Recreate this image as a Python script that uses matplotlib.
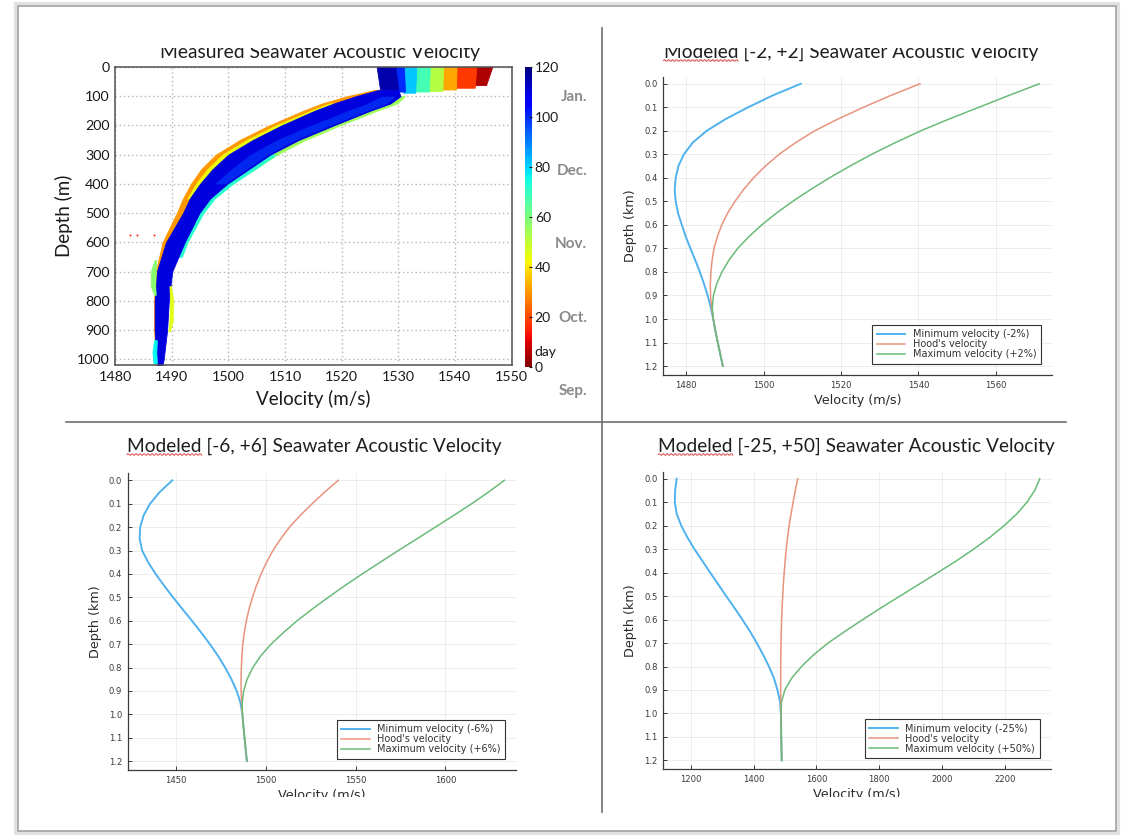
import numpy as np
import matplotlib
matplotlib.use("Agg")
import matplotlib.pyplot as plt
from matplotlib.cm import ScalarMappable
from matplotlib.colors import Normalize
from matplotlib.lines import Line2D
from matplotlib.patches import Rectangle
from matplotlib.ticker import FormatStrFormatter
from matplotlib.transforms import Bbox, TransformedBbox, blended_transform_factory

plt.rcParams['font.family'] = ['Lato', 'DejaVu Sans']

# ---------------- measured profile (top left), colour = day ----------------
# surface mixed-layer columns, one per group of days
ml_day = [5, 18, 32, 52, 68, 82, 100, 115]
ml_base_m = [62, 71, 77, 82, 84, 88, 84, 78]
ml_lo_top = [1543.8, 1540.3, 1537.9, 1535.6, 1533.2, 1531.0, 1529.5, 1526.2]
ml_hi_top = [1546.6, 1543.8, 1540.3, 1537.9, 1535.6, 1533.2, 1531.0, 1529.5]
ml_lo_base = [1543.0, 1540.0, 1537.5, 1535.3, 1533.0, 1530.8, 1529.6, 1526.8]
ml_hi_base = [1545.5, 1543.5, 1540.2, 1537.8, 1535.4, 1533.0, 1531.2, 1530.0]

# thermocline band below the mixed layer
tc_depth_m = [78, 100, 125, 150, 200, 250, 300, 350, 400, 450, 500, 600, 700, 800, 900, 1000, 1020]
orange_lo = [1526.0, 1521.0, 1516.5, 1513.2, 1507.2, 1502.0, 1497.8, 1495.2, 1493.4, 1492.0, 1490.9, 1488.4, 1487.2, 1486.9, 1486.9, 1487.2, 1487.3]
orange_hi = [1527.2, 1524.0, 1519.5, 1516.0, 1510.0, 1504.6, 1500.2, 1497.2, 1495.2, 1493.5, 1492.2, 1489.3, 1487.8, 1487.4, 1487.4, 1487.6, 1487.7]
core_lo = [1526.6, 1522.5, 1518.6, 1515.2, 1509.4, 1504.3, 1500.0, 1497.2, 1495.0, 1493.2, 1492.0, 1489.0, 1487.4, 1487.0, 1487.0, 1487.3, 1487.4]
core_hi = [1530.0, 1530.4, 1528.6, 1525.0, 1518.6, 1512.4, 1507.4, 1503.6, 1499.8, 1496.8, 1494.9, 1492.3, 1490.1, 1489.5, 1489.2, 1488.6, 1488.4]

yellow_depth_m = [125, 150, 200, 250, 300, 350, 400, 450]
yellow_lo = [1517.8, 1514.5, 1508.4, 1503.2, 1499.0, 1496.3, 1494.3, 1492.8]
yellow_hi = [1519.6, 1516.2, 1510.2, 1505.0, 1500.8, 1497.9, 1495.8, 1494.0]

green_depth_m = [100, 125, 150, 200, 250, 300, 350]
green_lo = [1529.5, 1527.8, 1524.2, 1517.7, 1511.6, 1506.6, 1502.7]
green_hi = [1531.2, 1529.8, 1526.2, 1519.7, 1513.6, 1508.6, 1504.7]

cyan_depth_m = [300, 350, 400, 450, 500, 600, 650]
cyan_lo = [1506.2, 1502.6, 1498.9, 1495.9, 1494.1, 1491.6, 1490.9]
cyan_hi = [1508.4, 1504.7, 1500.8, 1497.6, 1495.6, 1492.8, 1491.8]

mid_depth_m = [100, 125, 150, 200, 250, 300, 350, 400]
mid_lo = [1527.0, 1524.5, 1521.0, 1514.5, 1508.5, 1503.8, 1500.5, 1497.5]
mid_hi = [1529.5, 1528.0, 1524.5, 1518.0, 1511.8, 1507.0, 1503.2, 1499.5]

# small patches at the deep edges of the band
deep_green_m = [660, 700, 750, 780]
deep_green_lo = [1487.0, 1486.3, 1486.3, 1486.9]
deep_green_hi = [1487.3, 1487.2, 1487.1, 1487.2]
deep_cyan_m = [935, 975, 1015]
deep_cyan_lo = [1486.9, 1486.6, 1486.8]
deep_cyan_hi = [1487.4, 1487.3, 1487.4]
deep_yellow_m = [750, 800, 870, 905]
deep_yellow_lo = [1489.6, 1489.7, 1489.6, 1489.4]
deep_yellow_hi = [1489.9, 1490.3, 1490.2, 1489.7]

outlier_v = [1482.6, 1483.9, 1486.8]
outlier_d = [576, 576, 576]

month_names = ['Jan.', 'Dec.', 'Nov.', 'Oct.', 'Sep.']
month_day = [108, 78.5, 49, 19.5, -9.5]

# ---------------- modelled profiles ----------------
depth_km = [0.00, 0.05, 0.10, 0.15, 0.20, 0.25, 0.30, 0.35, 0.40, 0.45, 0.50, 0.55, 0.60,
            0.65, 0.70, 0.75, 0.80, 0.85, 0.90, 0.95, 1.00, 1.05, 1.10, 1.15, 1.20]
hood_v = [1540.4, 1532.8, 1525.8, 1519.2, 1513.2, 1508.3, 1504.0, 1500.45, 1497.4, 1494.8, 1492.6, 1490.7, 1489.2,
          1488.05, 1487.2, 1486.7, 1486.4, 1486.25, 1486.3, 1486.55, 1487.0, 1487.55, 1488.17, 1488.82, 1489.47]
min2_v = [1509.6, 1502.3, 1496.0, 1490.2, 1485.3, 1481.7, 1479.4, 1478.0, 1477.3, 1477.05, 1477.3, 1477.9, 1478.9,
          1479.9, 1481.1, 1482.35, 1483.55, 1484.6, 1485.55, 1486.35, 1487.0, 1487.55, 1488.17, 1488.82, 1489.47]
max2_v = [1571.2, 1563.3, 1555.6, 1547.9, 1540.6, 1534.05, 1527.9, 1522.3, 1517.0, 1512.1, 1507.5, 1503.3, 1499.5,
          1496.2, 1493.3, 1491.05, 1489.25, 1487.9, 1487.05, 1486.75, 1487.0, 1487.55, 1488.17, 1488.82, 1489.47]
min6_v = [1448.0, 1441.0, 1435.6, 1432.0, 1430.1, 1429.8, 1431.2, 1434.5, 1438.7, 1443.4, 1448.4, 1453.6, 1458.9,
          1464.0, 1468.9, 1473.4, 1477.4, 1480.9, 1483.8, 1485.9, 1487.0, 1487.55, 1488.17, 1488.82, 1489.47]
max6_v = [1632.8, 1624.0, 1614.6, 1604.6, 1594.4, 1584.1, 1573.8, 1563.7, 1553.7, 1544.0, 1534.8, 1525.9, 1517.5,
          1509.9, 1503.0, 1497.2, 1492.8, 1489.6, 1487.7, 1486.9, 1487.0, 1487.55, 1488.17, 1488.82, 1489.47]
min25_v = [1155.3, 1150.5, 1149.5, 1155.5, 1170.0, 1189.5, 1212.0, 1237.0, 1262.0, 1287.5, 1313.0, 1339.0, 1364.3,
           1388.5, 1410.3, 1430.5, 1449.0, 1465.0, 1476.0, 1484.3, 1487.0, 1487.55, 1488.17, 1488.82, 1489.47]
max50_v = [2310.6, 2294.5, 2270.0, 2237.4, 2197.0, 2151.5, 2100.0, 2045.0, 1986.0, 1926.0, 1865.7, 1805.5, 1747.5,
           1691.0, 1637.0, 1591.0, 1552.5, 1521.0, 1499.5, 1489.0, 1487.0, 1487.55, 1488.17, 1488.82, 1489.47]

W, H = 1127, 836
fig = plt.figure(figsize=(W / 100, H / 100), dpi=100, facecolor='white')


def px_box(x0, y0, x1, y1):
    # pixel box measured from the top-left corner -> figure fractions
    return [x0 / W, 1 - y1 / H, (x1 - x0) / W, (y1 - y0) / H]


cmap = plt.get_cmap('jet_r')
norm = Normalize(0, 120)

# ---------------- top left: measured ----------------
ax = fig.add_axes(px_box(115, 67, 511.5, 365))
for i in range(len(ml_day)):
    ax.fill_betweenx([0, ml_base_m[i]], [ml_lo_top[i], ml_lo_base[i]], [ml_hi_top[i], ml_hi_base[i]],
                     color=cmap(norm(ml_day[i])), lw=0.6)
ax.fill_betweenx(tc_depth_m, orange_lo, orange_hi, color=cmap(norm(30)), lw=0.6)
ax.fill_betweenx(yellow_depth_m, yellow_lo, yellow_hi, color=cmap(norm(44)), lw=0.6)
ax.fill_betweenx(green_depth_m, green_lo, green_hi, color=cmap(norm(55)), lw=0.6)
ax.fill_betweenx(cyan_depth_m, cyan_lo, cyan_hi, color=cmap(norm(72)), lw=0.6)
ax.fill_betweenx(tc_depth_m, core_lo, core_hi, color=cmap(norm(110)), lw=0.6)
ax.fill_betweenx(mid_depth_m, mid_lo, mid_hi, color=cmap(norm(96)), lw=0, alpha=0.5)
ax.fill_betweenx(deep_green_m, deep_green_lo, deep_green_hi, color=cmap(norm(58)), lw=0.5)
ax.fill_betweenx(deep_cyan_m, deep_cyan_lo, deep_cyan_hi, color=cmap(norm(76)), lw=0.5)
ax.fill_betweenx(deep_yellow_m, deep_yellow_lo, deep_yellow_hi, color=cmap(norm(45)), lw=0.5)
ax.scatter(outlier_v, outlier_d, s=2, color=cmap(norm(15)), lw=0)

ax.set_xlim(1480, 1550)
ax.set_ylim(1020, 0)
ax.set_xticks(range(1480, 1551, 10))
ax.set_yticks(range(0, 1001, 100))
ax.set_axisbelow(True)
ax.grid(True, color='#b5b5b5', linestyle=(0, (1, 2)), lw=1.0)
ax.tick_params(length=0, labelsize=10.3, pad=4, colors='#1a1a1a')
for s in ax.spines.values():
    s.set_color('#505050')
    s.set_linewidth(1.1)
ax.set_xlabel('Velocity (m/s)', fontsize=13.5, labelpad=5, color='#1a1a1a')
ax.set_ylabel('Depth (m)', fontsize=13.5, labelpad=3, color='#1a1a1a')

cax = fig.add_axes(px_box(525, 67, 532, 367))
cb = fig.colorbar(ScalarMappable(norm=norm, cmap=cmap), cax=cax, ticks=range(0, 121, 20))
cb.outline.set_visible(False)
cax.tick_params(direction='in', length=2.5, width=0.8, labelsize=10, pad=2, colors='#1a1a1a')
tr = blended_transform_factory(cax.transAxes, cax.transData)
cax.text(1.3, 6, 'day', transform=tr, fontsize=10, va='center', ha='left', color='#1a1a1a')
for name, d in zip(month_names, month_day):
    cax.text(8.9, d, name, transform=tr, fontsize=11, fontweight='bold', color='#8a8a8a',
             ha='right', va='center')

# ---------------- modelled panels ----------------
c_blue, c_red, c_green = '#4fb2ee', '#e8937e', '#6abb77'


def model_panel(box, vmin, vmax, lo_lbl, hi_lbl, xticks, xlim):
    a = fig.add_axes(px_box(*box))
    a.plot(vmin, depth_km, color=c_blue, lw=1.4, label='Minimum velocity (%s%%)' % lo_lbl)
    a.plot(hood_v, depth_km, color=c_red, lw=1.1, label="Hood's velocity")
    a.plot(vmax, depth_km, color=c_green, lw=1.1, label='Maximum velocity (%s%%)' % hi_lbl)
    a.set_xlim(*xlim)
    a.set_ylim(1.238, -0.03)
    a.set_xticks(xticks)
    a.set_yticks(depth_km[::2])
    a.yaxis.set_major_formatter(FormatStrFormatter('%.1f'))
    a.grid(True, color='black', alpha=0.08, lw=0.6)
    for side in ('top', 'right'):
        a.spines[side].set_visible(False)
    for side in ('left', 'bottom'):
        a.spines[side].set_color('#3a3a3a')
        a.spines[side].set_linewidth(0.9)
    a.tick_params(direction='in', length=3, width=0.7, labelsize=6.1, pad=4,
                  colors='#3a3a3a', labelfontfamily='DejaVu Sans')
    a.set_xlabel('Velocity (m/s)', fontsize=9.2, family='DejaVu Sans', labelpad=3, color='#2a2a2a')
    a.set_ylabel('Depth (km)', fontsize=9.2, family='DejaVu Sans', labelpad=5, color='#2a2a2a')
    leg = a.legend(loc='lower right', prop={'family': 'DejaVu Sans', 'size': 7.0}, fancybox=False,
                   framealpha=1, edgecolor='#333333', handlelength=2.9, handletextpad=0.8,
                   labelspacing=0.0, borderpad=0.45, borderaxespad=1.15)
    leg.get_frame().set_linewidth(0.8)
    for t in leg.get_texts():
        t.set_color('#333333')
    return a


ax2 = model_panel((663.3, 76.7, 1051.7, 375), min2_v, max2_v, '-2', '+2',
                  range(1480, 1561, 20), (1474.1, 1574.4))
ax6 = model_panel((127.6, 473.3, 516.4, 770), min6_v, max6_v, '-6', '+6',
                  range(1450, 1601, 50), (1423.1, 1639.5))
ax25 = model_panel((663.3, 471.7, 1050.7, 769.3), min25_v, max50_v, '-25', '+50',
                   range(1200, 2201, 200), (1112.8, 2345.4))

# bottom axis labels are cut by the page edge
bottom_clip = TransformedBbox(Bbox([[0, 1 - 797 / H], [1, 1]]), fig.transFigure)
for a in (ax6, ax25):
    a.xaxis.label.set_clip_box(bottom_clip)
    a.xaxis.label.set_clip_on(True)

# ---------------- titles ----------------
top_clip = TransformedBbox(Bbox([[0, 0], [1, 1 - 48 / H]]), fig.transFigure)
titles = [('Measured Seawater Acoustic Velocity', 319.5, 58, 320, True),
          ('Modeled [-2, +2] Seawater Acoustic Velocity', 850.8, 58, 375, True),
          ('Modeled [-6, +6] Seawater Acoustic Velocity', 314.4, 452, 374, False),
          ('Modeled [-25, +50] Seawater Acoustic Velocity', 856.7, 452, 397, False)]
renderer = fig.canvas.get_renderer()
for text, xc, yb, width, clipped in titles:
    t = fig.text(xc / W, 1 - yb / H, text, ha='center', va='baseline', fontsize=13, color='#1e1e1e')
    t.set_fontsize(13 * width / t.get_window_extent(renderer).width)
    if clipped:
        t.set_clip_box(top_clip)
        t.set_clip_on(True)
    if text.startswith('Modeled'):
        bb = t.get_window_extent(renderer)
        tmp = fig.text(0, 0, 'Modeled', fontproperties=t.get_fontproperties())
        wd = tmp.get_window_extent(renderer).width
        tmp.remove()
        xs = np.linspace(bb.x0, bb.x0 + wd, int(wd))
        ys = (H - yb) - 2.5 + 0.9 * np.sin((xs - bb.x0) * 2 * np.pi / 4)
        fig.add_artist(Line2D(xs / W, ys / H, transform=fig.transFigure, color='#e05a5a', lw=0.8))

# ---------------- page frame and dividers ----------------
fig.add_artist(Rectangle((16 / W, 1 - 833 / H), 1102 / W, 829 / H, transform=fig.transFigure,
                         fill=False, ec='#e2e2e2', lw=3))
fig.add_artist(Rectangle((18 / W, 1 - 831 / H), 1098 / W, 825 / H, transform=fig.transFigure,
                         fill=False, ec='#a2a2a2', lw=1.2))
fig.add_artist(Line2D([601.5 / W, 601.5 / W], [1 - 28 / H, 1 - 812 / H], transform=fig.transFigure,
                      color='#6e6e6e', lw=1.2))
fig.add_artist(Line2D([66 / W, 1066 / W], [1 - 421.5 / H, 1 - 421.5 / H], transform=fig.transFigure,
                      color='#6e6e6e', lw=1.2))

fig.savefig('out.png', dpi=100, facecolor='white')
